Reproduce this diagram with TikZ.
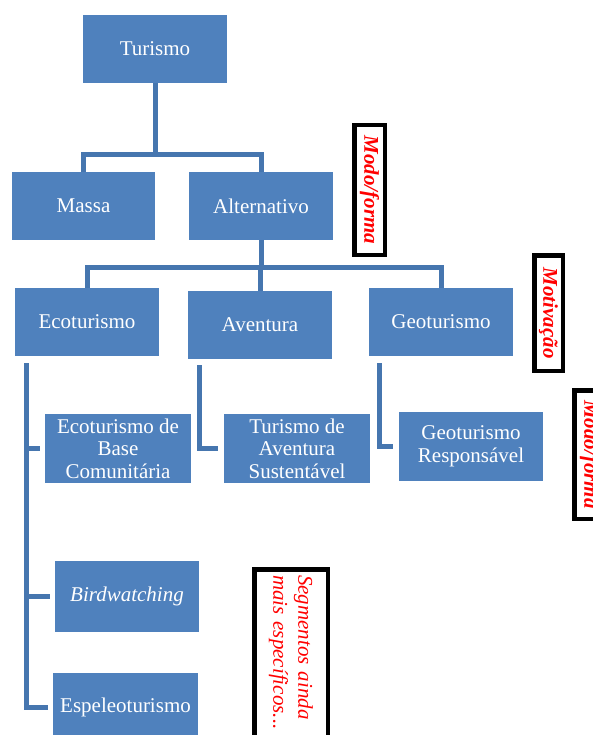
\documentclass[tikz,border=0pt]{standalone}
\usepackage{fontspec}
\setmainfont{Liberation Serif}
\usetikzlibrary{positioning}
\definecolor{azulcaixa}{RGB}{79,129,189}
\definecolor{azullinha}{RGB}{70,118,175}
\definecolor{vermelho}{RGB}{255,0,0}
\tikzset{
  caixa/.style={rectangle, fill=azulcaixa, text=white, align=center, inner sep=0pt,
                minimum width=144, minimum height=68, font=\fontsize{21}{22.5}\selectfont},
  rotulo/.style={rectangle, draw=black, line width=4.5pt, fill=white, text=vermelho, rotate=-90,
                 inner sep=0pt, font=\fontsize{21}{25}\selectfont\itshape},
  liga/.style={azullinha, line width=5pt}
}
\begin{document}
\begin{tikzpicture}[x=1pt,y=-1pt]
\useasboundingbox (0,0) rectangle (593,735);
\node[caixa] (tur) at (155,49) {Turismo};
\node[caixa,minimum width=143] (mas) at (83.5,206) {Massa};
\node[caixa] (alt) at (261,206) {Alternativo};
\node[caixa] (eco) at (87,322) {Ecoturismo};
\node[caixa] (ave) at (260,325) {Aventura};
\node[caixa] (geo) at (441,322) {Geoturismo};
\node[caixa,minimum width=146,minimum height=69] (ecb) at (118,448.5) {Ecoturismo de\\ Base\\ Comunitária};
\node[caixa,minimum width=146,minimum height=69] (tas) at (297,448.5) {Turismo de\\ Aventura\\ Sustentável};
\node[caixa,minimum height=69] (gr) at (471,446.5) {Geoturismo\\ Responsável};
\node[caixa,minimum height=71] (bird) at (127,596.5) {\itshape Birdwatching};
\node[caixa,minimum width=145] (esp) at (125.5,707) {Espeleoturismo};

\node[rotulo,font=\fontsize{21}{25}\selectfont\bfseries\itshape,minimum width=129.5,minimum height=30.5] (mf1) at (369.5,190) {Modo/forma};
\node[rotulo,font=\fontsize{21}{25}\selectfont\bfseries\itshape,minimum width=115.5,minimum height=28.5] (mot) at (548.5,313) {Motivação};
\node[rotulo,font=\fontsize{21}{25}\selectfont\bfseries\itshape,minimum width=128.5,minimum height=30.5] (mf2) at (589.5,454.5) {Modo/forma};
\node[rotulo,minimum width=173.5,minimum height=73.5,text width=162,align=left] (seg) at (291,656) {Segmentos ainda\\ mais específicos...};

\coordinate (ecoL) at ([xshift=12pt]eco.south west);
\draw[liga] (tur.south) -- ++(0,72);
\draw[liga] (mas.north) -- ++(0,-17) -| (alt.north);
\draw[liga] (alt.south) -- ++(0,28);
\draw[liga] (eco.north) -- ++(0,-20) -| (geo.north);
\draw[liga] (ave.north) -- ++(0,-23);
\draw[liga] ([yshift=-7pt]ecoL) |- ([xshift=-5pt]esp.west);
\draw[liga] (ecoL |- ecb.west) -- ([xshift=-5pt]ecb.west);
\draw[liga] (ecoL |- bird.west) -- ([xshift=-5pt]bird.west);
\draw[liga] ([xshift=12pt,yshift=-6pt]ave.south west) |- ([xshift=-6pt]tas.west);
\draw[liga] ([xshift=11pt,yshift=-7pt]geo.south west) |- ([xshift=-6pt]gr.west);
\end{tikzpicture}
\end{document}
